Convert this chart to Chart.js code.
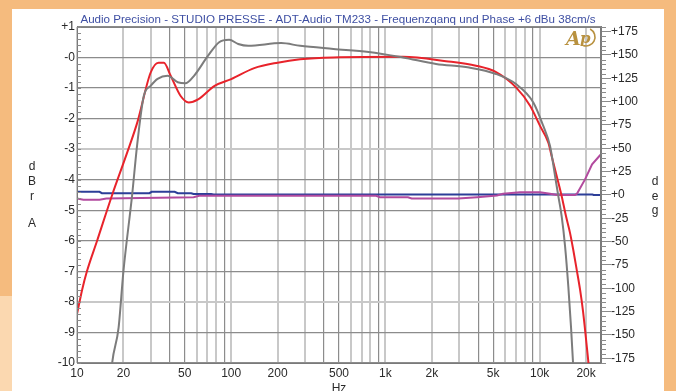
<!DOCTYPE html>
<html>
<head>
<meta charset="utf-8">
<script src="https://cdn.jsdelivr.net/npm/chart.js@4.4.1/dist/chart.umd.min.js"></script>
<style>
  html, body { margin: 0; padding: 0; background: #f5bb7e; overflow: hidden; }
  #wrap { position: relative; width: 676px; height: 391px; }
  #panel { position: absolute; left: 12px; top: 9px; width: 652px; height: 382px; background: #fff; }
  #patch { position: absolute; left: 0; top: 296px; width: 12px; height: 95px; background: #fbd8b0; }
  #chart { position: absolute; left: 0; top: 0; }
</style>
</head>
<body>
<div id="wrap">
  <div id="patch"></div>
  <div id="panel"></div>
  <canvas id="chart" width="676" height="391"></canvas>
</div>
<script>
// amplitude, left axis (dBr A)
const freqRed = [10, 10.8, 11.6, 13.5, 16.9, 21.2, 24.7, 30, 33.8, 36.6, 40.5, 47, 53, 61, 78, 100, 141, 200, 280, 460, 1300, 2470, 3870, 5220, 7030, 8670, 10060, 11390, 11970, 12900, 13900, 14830, 15740, 16540, 17400, 18290, 19110, 20590, 21500];
const dbRed   = [-8.4, -7.6, -7.0, -6.0, -4.5, -3.1, -2.1, -0.5, -0.17, -0.17, -0.6, -1.26, -1.47, -1.37, -0.93, -0.71, -0.35, -0.17, -0.06, 0.0, 0.02, -0.12, -0.27, -0.48, -0.98, -1.58, -2.24, -2.79, -3.23, -3.88, -4.54, -5.2, -5.74, -6.31, -6.95, -7.6, -8.3, -9.85, -10.8];

const freqGray = [16.5, 16.9, 18.6, 20, 22.8, 24.5, 27.1, 30, 33.3, 38.7, 45, 50.8, 57.4, 70.6, 83.5, 97, 111, 129, 211, 280, 460, 780, 1300, 2130, 3490, 5220, 7030, 9100, 10560, 11680, 12590, 13220, 13900, 14620, 15350, 15990, 16470, 17000];
const dbGray   = [-10.6, -10, -8.85, -7.0, -4.48, -2.9, -1.26, -0.93, -0.7, -0.6, -0.81, -0.84, -0.6, 0.05, 0.5, 0.58, 0.44, 0.38, 0.47, 0.38, 0.28, 0.18, 0.0, -0.21, -0.33, -0.54, -0.87, -1.47, -2.24, -2.9, -3.88, -4.54, -5.2, -6.18, -7.5, -8.85, -10, -11];

// phase, right axis (deg)
const freqBlue = [10, 14, 14.5, 29.5, 30.5, 43, 45, 55, 57, 74, 77, 22000, 22400, 25000];
const degBlue  = [3.4, 3.4, 1.9, 1.9, 3.4, 3.4, 1.9, 1.9, 1.0, 1.0, 0.5, 0.5, 0.0, 0.0];

const freqPurple = [10, 11, 14, 15.5, 57, 62, 870, 920, 1400, 1480, 2960, 3930, 5290, 5790, 7460, 10060, 11680, 12970, 16970, 17490, 19700, 21880, 24650, 25000];
const degPurple  = [-3.8, -5.2, -5.2, -3.8, -2.4, -0.9, -0.9, -2.4, -2.4, -3.8, -3.8, -2.4, -0.5, 1.3, 3.0, 3.0, 1.3, 0.0, 0.0, 1.6, 16.7, 32.8, 42.5, 43.5];

const xLabelValues = [10, 20, 50, 100, 200, 500, 1000, 2000, 5000, 10000, 20000];
const xLabelText   = ['10', '20', '50', '100', '200', '500', '1k', '2k', '5k', '10k', '20k'];
const dbTicks  = [1, 0, -1, -2, -3, -4, -5, -6, -7, -8, -9, -10];
const degTicks = [175, 150, 125, 100, 75, 50, 25, 0, -25, -50, -75, -100, -125, -150, -175];

const titleText = 'Audio Precision - STUDIO PRESSE - ADT-Audio TM233 - Frequenzqanq und Phase +6 dBu 38cm/s';

const FONT = 'Arial, "Liberation Sans", sans-serif';
const LIGHT = '#c8c8c8';
const DARK = '#8c8c8c';

const gridFreqs = [];
for (let d = 10; d <= 10000; d *= 10) {
  for (let m = 1; m <= 9; m++) {
    if (d * m <= 25000) gridFreqs.push(d * m);
  }
}

function pts(xs, ys) {
  return xs.map((x, i) => ({ x: x, y: ys[i] }));
}

function leadDigit(v) {
  return Math.round(v / Math.pow(10, Math.floor(Math.log10(v) + 1e-9)));
}

const extras = {
  id: 'extras',
  afterDraw(chart) {
    const ctx = chart.ctx;
    const a = chart.chartArea;
    const y = chart.scales.y;
    const y2 = chart.scales.y2;
    ctx.save();
    // frame
    ctx.strokeStyle = '#7a7a7a';
    ctx.lineWidth = 1;
    ctx.strokeRect(a.left + 0.5, a.top + 0.5, a.right - a.left - 1, a.bottom - a.top);
    // minor ticks
    ctx.strokeStyle = '#8a8a8a';
    ctx.beginPath();
    for (let v = -10; v <= 1.001; v += 0.2) {
      const py = Math.round(y.getPixelForValue(v)) + 0.5;
      ctx.moveTo(a.left, py);
      ctx.lineTo(a.left + 4, py);
    }
    for (let v = -180; v <= 180; v += 5) {
      if (v % 25 === 0) continue;
      const py = Math.round(y2.getPixelForValue(v)) + 0.5;
      ctx.moveTo(a.right, py);
      ctx.lineTo(a.right + 5, py);
    }
    ctx.stroke();
    // axis captions
    ctx.fillStyle = '#2a2a2a';
    ctx.font = '12px ' + FONT;
    ctx.textAlign = 'center';
    ctx.textBaseline = 'middle';
    [['d', 167], ['B', 182], ['r', 197], ['A', 224]].forEach(p => ctx.fillText(p[0], 32, p[1]));
    [['d', 182], ['e', 197], ['g', 211]].forEach(p => ctx.fillText(p[0], 655, p[1]));
    ctx.fillText('Hz', (a.left + a.right) / 2, 389);
    // AP logo
    ctx.fillStyle = '#b8913f';
    ctx.strokeStyle = '#b8913f';
    ctx.font = 'italic bold 19px "DejaVu Serif", serif';
    ctx.textAlign = 'left';
    ctx.textBaseline = 'alphabetic';
    ctx.fillText('A', 566, 45);
    ctx.font = 'italic bold 15px "DejaVu Serif", serif';
    ctx.fillText('p', 580, 43);
    ctx.lineWidth = 1.6;
    ctx.beginPath();
    ctx.arc(586, 37, 9, -1.1, 1.9);
    ctx.stroke();
    ctx.restore();
  }
};

new Chart(document.getElementById('chart'), {
  type: 'line',
  data: {
    datasets: [
      { label: 'amp B', data: pts(freqGray, dbGray), yAxisID: 'y', borderColor: '#7c7c7c', borderWidth: 2, cubicInterpolationMode: 'monotone' },
      { label: 'amp A', data: pts(freqRed, dbRed), yAxisID: 'y', borderColor: '#e8232b', borderWidth: 2, cubicInterpolationMode: 'monotone' },
      { label: 'phase A', data: pts(freqPurple, degPurple), yAxisID: 'y2', borderColor: '#b24a9e', borderWidth: 2, tension: 0 },
      { label: 'phase B', data: pts(freqBlue, degBlue), yAxisID: 'y2', borderColor: '#2c3e98', borderWidth: 2, tension: 0 }
    ]
  },
  options: {
    responsive: false,
    animation: false,
    devicePixelRatio: 1,
    layout: { padding: 0 },
    elements: { point: { radius: 0 } },
    plugins: {
      legend: { display: false },
      tooltip: { enabled: false },
      title: {
        display: true,
        text: titleText,
        color: '#3e4fa3',
        font: { family: FONT, size: 11.6, weight: 'normal' },
        padding: { top: 13, bottom: 0 }
      }
    },
    scales: {
      x: {
        type: 'logarithmic',
        min: 10,
        max: 25000,
        afterBuildTicks: s => { s.ticks = gridFreqs.map(v => ({ value: v })); },
        afterFit: s => { s.height = 28; },
        border: { display: true, color: '#7a7a7a' },
        grid: {
          drawTicks: false,
          color: c => ([4, 5, 9].includes(leadDigit(c.tick.value)) ? DARK : LIGHT),
          lineWidth: c => ([4, 5, 9].includes(leadDigit(c.tick.value)) ? 1.2 : 2)
        },
        ticks: {
          autoSkip: false,
          maxRotation: 0,
          padding: 3,
          color: '#2a2a2a',
          font: { family: FONT, size: 12 },
          callback: v => {
            const i = xLabelValues.indexOf(v);
            return i >= 0 ? xLabelText[i] : '';
          }
        }
      },
      y: {
        position: 'left',
        min: -10,
        max: 1,
        afterBuildTicks: s => { s.ticks = dbTicks.map(v => ({ value: v })); },
        afterFit: s => { s.width = 77; },
        border: { display: true, color: '#7a7a7a' },
        grid: {
          drawTicks: false,
          color: c => ([-3, -8].includes(c.tick.value) ? LIGHT : DARK),
          lineWidth: c => ([-3, -8].includes(c.tick.value) ? 2 : 1.2)
        },
        ticks: {
          padding: 2,
          color: '#2a2a2a',
          font: { family: FONT, size: 12 },
          callback: v => (v > 0 ? '+' + v : (v === 0 ? '-0' : String(v)))
        }
      },
      y2: {
        position: 'right',
        min: -180,
        max: 180,
        afterBuildTicks: s => { s.ticks = degTicks.map(v => ({ value: v })); },
        afterFit: s => { s.width = 75; },
        border: { display: true, color: '#7a7a7a' },
        grid: { drawOnChartArea: false, drawTicks: true, tickLength: 10, color: '#8a8a8a' },
        ticks: {
          padding: 0,
          color: '#2a2a2a',
          font: { family: FONT, size: 12 },
          callback: v => (v >= 0 ? '+' + v : String(v))
        }
      }
    }
  },
  plugins: [extras]
});
</script>
</body>
</html>
